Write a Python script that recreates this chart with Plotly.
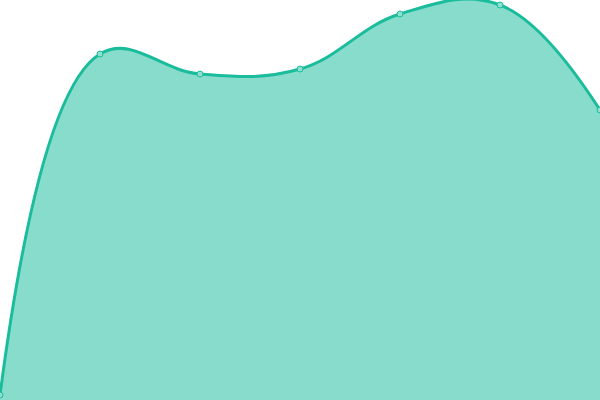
import plotly.graph_objects as go

x_vals = [0, 1, 2, 3, 4, 5, 6]
y_vals = [5, 346, 326, 331, 386, 395, 290]

fig = go.Figure()
fig.add_trace(go.Scatter(x=x_vals, y=y_vals,
                         mode="lines+markers",
                         line=dict(color="#1abc9c", width=3, shape="spline", smoothing=1.15),
                         fill="tozeroy",
                         fillcolor="rgba(26,188,156,0.52)",
                         marker=dict(size=6, color="#8ddfcf",
                                     line=dict(color="#1abc9c", width=1)),
                         showlegend=False,
                         hoverinfo="skip"))

fig.update_layout(width=600, height=400,
                  margin=dict(l=0, r=0, t=0, b=0),
                  paper_bgcolor="white", plot_bgcolor="white",
                  xaxis=dict(range=[0, 6], visible=False),
                  yaxis=dict(range=[0, 400], visible=False))

# drop the default page margin so the chart fills the window
fig.write_html("out.html", config={"displayModeBar": False},
               post_script="document.body.style.margin='0';")
